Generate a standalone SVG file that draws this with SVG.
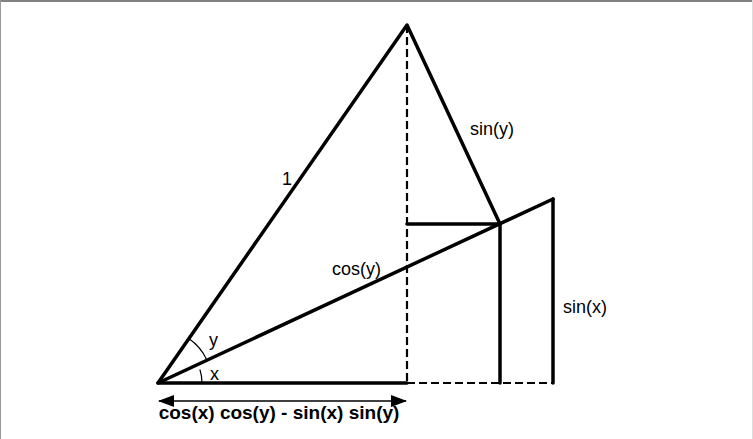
<svg xmlns="http://www.w3.org/2000/svg" width="753" height="439" viewBox="0 0 753 439">
<style>
.s{stroke:#000;stroke-width:3.5;fill:none;stroke-linecap:round;stroke-linejoin:round}
.d{stroke:#000;stroke-width:2.2;fill:none;stroke-dasharray:8,4}
.a{stroke:#000;stroke-width:1.2;fill:none}
.t{font-family:"Liberation Sans",Arial,sans-serif;font-size:18px;fill:#000}
.b{font-family:"Liberation Sans",Arial,sans-serif;font-size:19px;font-weight:bold;fill:#000}
</style>
<defs>
<marker id="ah" viewBox="0 0 16 12" refX="15" refY="6" markerWidth="16" markerHeight="12" markerUnits="userSpaceOnUse" orient="auto-start-reverse">
<path d="M0,0 L16,6 L0,12 Z" fill="#000"/>
</marker>
</defs>
<rect x="0" y="0" width="753" height="439" fill="#fff"/>
<line x1="0" y1="1" x2="753" y2="1" stroke="#808080" stroke-width="2"/>
<line x1="0.5" y1="0" x2="0.5" y2="439" stroke="#999" stroke-width="1"/>
<line x1="752.5" y1="0" x2="752.5" y2="439" stroke="#ddd" stroke-width="1"/>
<g id="connectors">
<line class="d" x1="407" y1="25" x2="407" y2="383"/>
<line class="d" x1="407" y1="383" x2="553" y2="383"/>
<polyline class="s" points="407,383 158,383 407,25 500,224"/>
<line class="s" x1="158" y1="383" x2="553" y2="199"/>
<line class="s" x1="407" y1="224" x2="500" y2="224"/>
<line class="s" x1="500" y1="224" x2="500" y2="383"/>
<line class="s" x1="553" y1="199" x2="553" y2="383"/>
<path class="a" d="M202,383 A44,44 0 0,0 199.9,369.5"/>
<path class="a" d="M207,360.2 A54,54 0 0,0 188.8,338.6"/>
<line x1="159" y1="401" x2="406" y2="401" stroke="#000" stroke-width="1.6" marker-start="url(#ah)" marker-end="url(#ah)"/>
</g>
<g id="labels">
<text class="t" x="287" y="185" text-anchor="middle">1</text>
<text class="t" x="470" y="135">sin(y)</text>
<text class="t" x="332" y="275">cos(y)</text>
<text class="t" x="563" y="313">sin(x)</text>
<text class="t" x="209" y="346">y</text>
<text class="t" x="210" y="380">x</text>
<text class="b" x="279" y="419" text-anchor="middle">cos(x) cos(y) - sin(x) sin(y)</text>
</g>
</svg>
